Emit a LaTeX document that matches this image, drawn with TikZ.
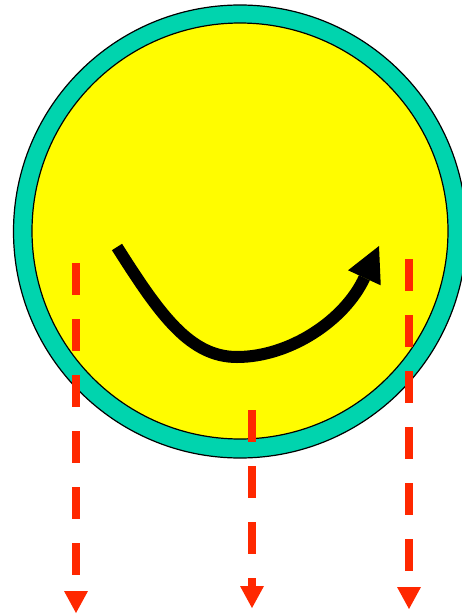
\documentclass[tikz,border=0pt]{standalone}
\usetikzlibrary{arrows.meta}
\definecolor{ringteal}{RGB}{0,212,174}
\definecolor{faceyellow}{RGB}{255,252,0}
\definecolor{dropred}{RGB}{255,40,0}
\tikzset{
  disc/.style={circle, draw=black, line width=1.2pt, inner sep=0pt},
  dropline/.style={draw=dropred, line width=8pt, dash pattern=on 32pt off 24pt,
    -{Triangle[width=24pt,length=22pt,line width=0pt]}},
  smile/.style={draw=black, line width=12pt,
    -{Triangle[width=36pt,length=35pt,line width=0pt]}}
}
\begin{document}
\begin{tikzpicture}[x=1pt,y=-1pt]
\useasboundingbox (0,0) rectangle (462,616);
\node[disc, fill=ringteal, minimum size=453pt] (outer) at (240,231.5) {};
\node[disc, fill=faceyellow, minimum size=416pt] (inner) at (240,231) {};
\coordinate (s0) at (117,247);
\coordinate (s1) at (237,357);
\coordinate (s2) at (379,246);
\draw[smile] (s0) .. controls (160,315) and (190,357) .. (s1)
  .. controls (290,357) and (345,320) .. (s2);
\coordinate (l0) at (76,263);
\coordinate (l1) at (76,613);
\coordinate (m0) at (252,410);
\coordinate (m1) at (252,608);
\coordinate (r0) at (409,259);
\coordinate (r1) at (409,609);
\draw[dropline] (l0) -- (l1);
\draw[dropline] (m0) -- (m1);
\draw[dropline] (r0) -- (r1);
\end{tikzpicture}
\end{document}
